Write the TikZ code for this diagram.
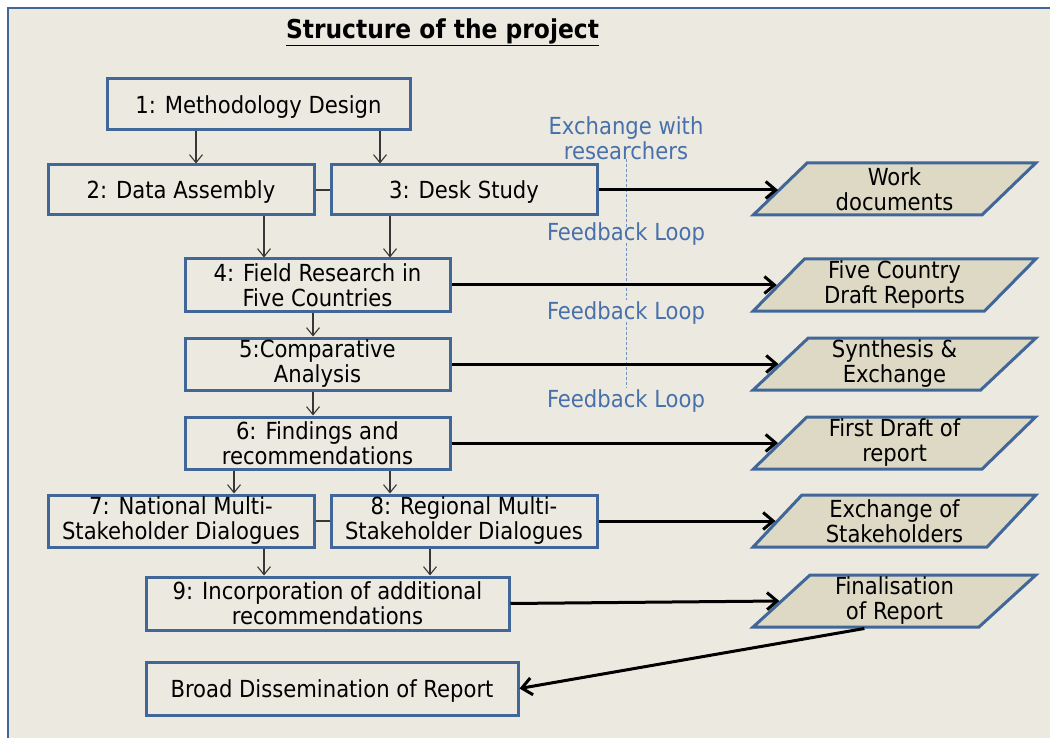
\documentclass[tikz,border=0pt]{standalone}
\usepackage{fontspec}
\setmainfont{DejaVu Sans Condensed}
\usetikzlibrary{arrows.meta,shapes.geometric}
\definecolor{bg}{RGB}{236,234,224}
\definecolor{parafill}{RGB}{221,217,196}
\definecolor{boxblue}{RGB}{65,102,152}
\definecolor{textblue}{RGB}{72,112,170}
\definecolor{dashblue}{RGB}{110,145,190}
\definecolor{linegray}{RGB}{55,55,55}
\newcommand{\mainfs}{\fontsize{23.5}{25}\selectfont}
\newcommand{\titlefs}{\fontsize{26}{28}\selectfont\bfseries}
\begin{document}
\begin{tikzpicture}[x=1pt,y=-1pt,
  box/.style={draw=boxblue, line width=3pt, fill=bg, inner sep=0pt, align=center, font=\mainfs, text=black},
  onebox/.style={box, text height=22pt},
  para/.style={trapezium, trapezium left angle=50, trapezium right angle=130, trapezium stretches=true,
    draw=boxblue, line width=3pt, fill=parafill, inner sep=0pt, align=center,
    minimum width=283pt, minimum height=52pt, font=\mainfs, text=black},
  flow/.style={draw=linegray, line width=1.1pt, -{Straight Barb[length=8pt,width=13pt]}},
  joinline/.style={draw=linegray, line width=1.1pt},
  outarrow/.style={draw=black, line width=3pt, -{Straight Barb[length=10pt,width=17pt,line width=3pt]}},
  fb/.style={text=textblue, font=\mainfs, align=center, inner sep=0pt},
  dl/.style={draw=dashblue, line width=0.8pt, dash pattern=on 3pt off 2pt}]
\useasboundingbox (0,0) rectangle (1050,738);
\fill[white] (0,0) rectangle (1050,738);
\fill[bg] (8,8) rectangle (1050,738);
\draw[boxblue, line width=2.5pt] (8,738) -- (8,8) -- (1050,8);

\node[font=\titlefs, inner sep=0pt] (title) at (442.5,32) {\underline{Structure of the project}};

\node[onebox, minimum width=303pt, minimum height=51pt] (b1) at (258.5,104.5) {1: Methodology Design};
\node[onebox, minimum width=266pt, minimum height=50pt] (b2) at (181,190) {2: Data Assembly};
\node[onebox, minimum width=266pt, minimum height=50pt] (b3) at (464,190) {3: Desk Study};
\node[box, minimum width=265pt, minimum height=52pt] (b4) at (317.5,285) {4: Field Research in\\Five Countries};
\node[box, minimum width=265pt, minimum height=52pt] (b5) at (317.5,364) {5:Comparative\\Analysis};
\node[box, minimum width=265pt, minimum height=52pt] (b6) at (317.5,443) {6: Findings and\\recommendations};
\node[box, minimum width=266pt, minimum height=52pt] (b7) at (181,521) {7: National Multi-\\Stakeholder Dialogues};
\node[box, minimum width=266pt, minimum height=52pt] (b8) at (464,521) {8: Regional Multi-\\Stakeholder Dialogues};
\node[box, minimum width=363pt, minimum height=53pt] (b9) at (327.5,603.5) {9: Incorporation of additional\\recommendations};
\node[onebox, minimum width=372pt, minimum height=53pt] (b10) at (332,688.5) {Broad Dissemination of Report};

\node[para] (p1) at (894.5,189) {Work\\documents};
\node[para] (p2) at (894.5,285) {Five Country\\Draft Reports};
\node[para] (p3) at (894.5,364) {Synthesis \&\\Exchange};
\node[para] (p4) at (894.5,443) {First Draft of\\report};
\node[para] (p5) at (894.5,521) {Exchange of\\Stakeholders};
\node[para] (p6) at (894.5,601) {Finalisation\\of Report};

\node[fb] (fb0) at (626,138) {Exchange with\\researchers};
\node[fb] (fb1) at (626,234) {Feedback Loop};
\node[fb] (fb2) at (626,313) {Feedback Loop};
\node[fb] (fb3) at (626,401) {Feedback Loop};
\draw[dl] ([yshift=1pt]fb0.south) -- ([yshift=-8pt]fb1.north);
\draw[dl] ([yshift=3pt]fb1.south) -- ([yshift=1pt]fb2.north);
\draw[dl] ([yshift=3pt]fb2.south) -- ([yshift=2pt]fb3.north);

\draw[flow] ([xshift=-62.5pt]b1.south) -- ([xshift=15pt]b2.north);
\draw[flow] ([xshift=121.5pt]b1.south) -- ([xshift=-84pt]b3.north);
\draw[joinline] (b2.east) -- (b3.west);
\draw[flow] ([xshift=83pt]b2.south) -- ([xshift=-53.5pt]b4.north);
\draw[flow] ([xshift=-74pt]b3.south) -- ([xshift=72.5pt]b4.north);
\draw[flow] ([xshift=-4.5pt]b4.south) -- ([xshift=-4.5pt]b5.north);
\draw[flow] ([xshift=-4.5pt]b5.south) -- ([xshift=-4.5pt]b6.north);
\draw[flow] ([xshift=-83.5pt]b6.south) -- ([xshift=53pt]b7.north);
\draw[flow] ([xshift=72.5pt]b6.south) -- ([xshift=-74pt]b8.north);
\draw[joinline] (b7.east) -- (b8.west);
\draw[flow] ([xshift=83pt]b7.south) -- ([xshift=-63.5pt]b9.north);
\draw[flow] ([xshift=-34pt]b8.south) -- ([xshift=102.5pt]b9.north);

\draw[outarrow] (b3.east) -- (b3.east -| p1.left side);
\draw[outarrow] (b4.east) -- (b4.east -| p2.left side);
\draw[outarrow] (b5.east) -- (b5.east -| p3.left side);
\draw[outarrow] (b6.east) -- (b6.east -| p4.left side);
\draw[outarrow] (b8.east) -- (b8.east -| p5.left side);
\draw[outarrow] (b9.east) -- (p6.left side);
\draw[outarrow] ([xshift=0pt]p6.bottom side) -- (b10.east);
\end{tikzpicture}
\end{document}
